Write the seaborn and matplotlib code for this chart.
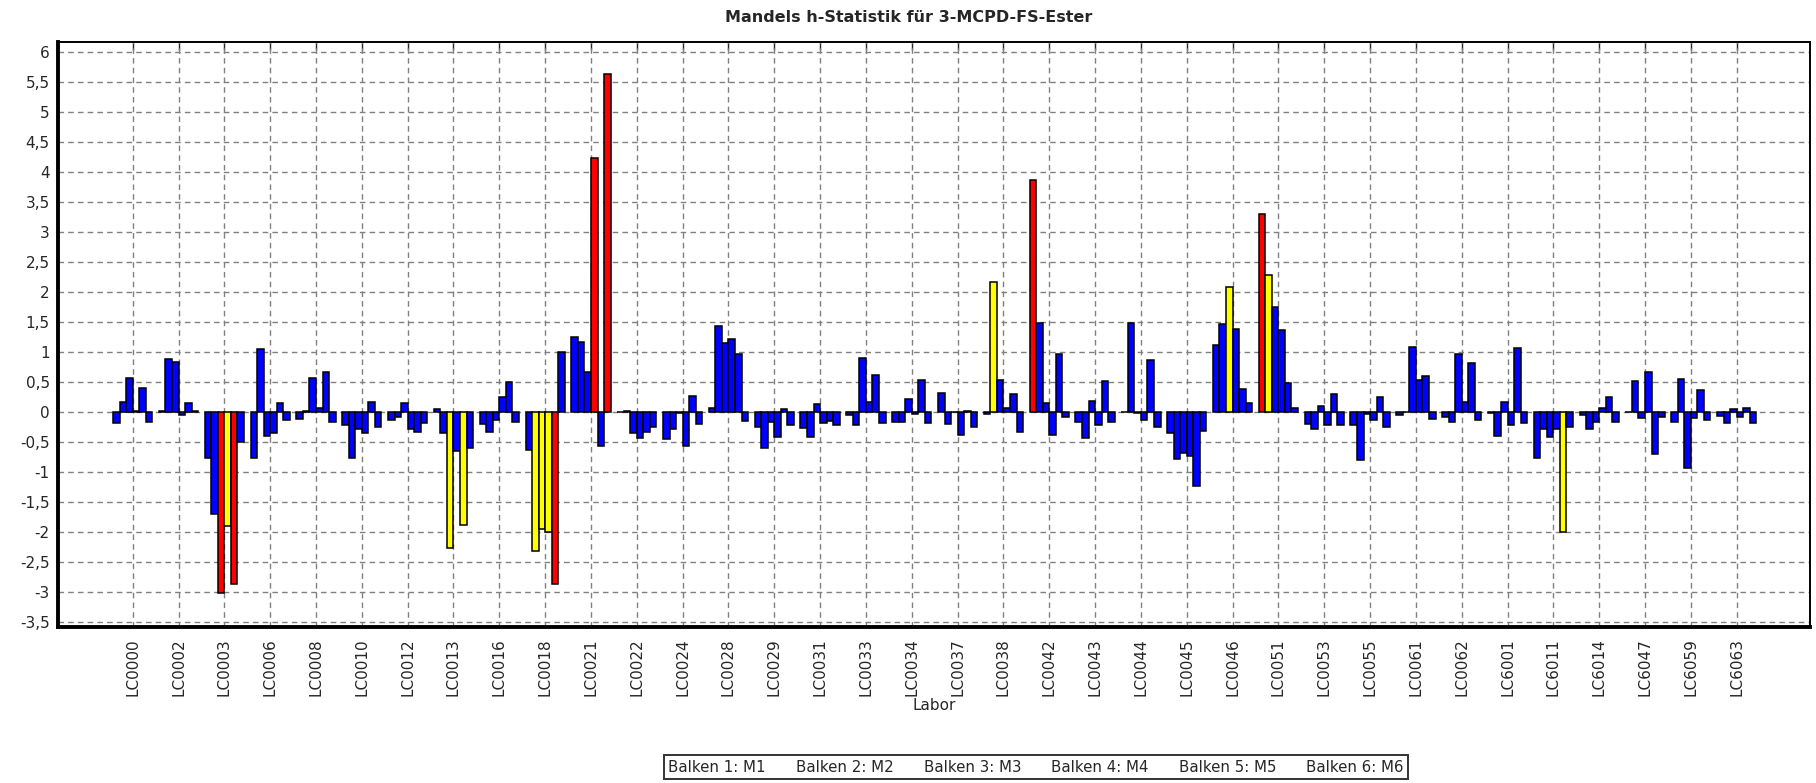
import numpy as np
import pandas as pd
import matplotlib
matplotlib.use("Agg")
import matplotlib.pyplot as plt
from matplotlib.lines import Line2D
from matplotlib.ticker import FuncFormatter
import seaborn as sns

# Labore (one group of six bars per lab)
labs = ["LC0000", "LC0002", "LC0003", "LC0006", "LC0008", "LC0010", "LC0012",
        "LC0013", "LC0016", "LC0018", "LC0021", "LC0022", "LC0024", "LC0028",
        "LC0029", "LC0031", "LC0033", "LC0034", "LC0037", "LC0038", "LC0042",
        "LC0043", "LC0044", "LC0045", "LC0046", "LC0051", "LC0053", "LC0055",
        "LC0061", "LC0062", "LC6001", "LC6011", "LC6014", "LC6047", "LC6059",
        "LC6063"]

# Mandel h values, Balken 1..6 (M1..M6)
m1 = [-0.19, 0.02, -0.77, -0.77, -0.12, -0.22, -0.14, 0.05, -0.20, -0.63, 1.24, 0.00,
      -0.46, 0.07, -0.26, -0.27, -0.05, -0.17, 0.32, -0.03, 3.87, -0.17, 0.00, -0.36,
      1.11, 3.30, -0.21, -0.22, -0.06, -0.08, -0.02, -0.77, -0.06, 0.00, -0.17, -0.07]
m2 = [0.17, 0.88, -1.70, 1.04, 0.02, -0.77, -0.08, -0.36, -0.33, -2.32, 1.16, 0.02,
      -0.29, 1.44, -0.61, -0.42, -0.22, -0.17, -0.21, 2.17, 1.49, -0.44, 1.49, -0.78,
      1.47, 2.28, -0.29, -0.81, -0.01, -0.17, -0.41, -0.29, -0.29, 0.52, 0.54, -0.19]
m3 = [0.56, 0.83, -3.03, -0.41, 0.56, -0.28, 0.14, -2.27, -0.14, -1.96, 0.66, -0.36,
      -0.02, 1.14, -0.17, 0.13, 0.89, 0.21, 0.00, 0.53, 0.14, 0.18, -0.02, -0.69,
      2.09, 1.75, 0.10, -0.04, 1.08, 0.97, 0.16, -0.42, -0.17, -0.11, -0.93, 0.04]
m4 = [0.02, -0.06, -1.91, -0.36, 0.07, -0.36, -0.28, -0.66, 0.25, -2.00, 4.24, -0.43,
      -0.57, 1.22, -0.42, -0.19, 0.17, -0.03, -0.39, 0.06, -0.39, -0.22, -0.14, -0.74,
      1.39, 1.37, -0.22, -0.14, 0.53, 0.17, -0.22, -0.29, 0.06, 0.66, -0.11, -0.08]
m5 = [0.39, 0.14, -2.87, 0.14, 0.66, 0.17, -0.33, -1.89, 0.50, -2.87, -0.57, -0.34,
      0.27, 0.96, 0.04, -0.15, 0.62, 0.53, 0.02, 0.29, 0.97, 0.51, 0.87, -1.24,
      0.38, 0.48, 0.29, 0.24, 0.60, 0.81, 1.06, -2.00, 0.25, -0.71, 0.36, 0.06]
m6 = [-0.17, 0.01, -0.50, -0.14, -0.17, -0.25, -0.19, -0.60, -0.17, 0.99, 5.64, -0.26,
      -0.20, -0.15, -0.22, -0.22, -0.19, -0.19, -0.25, -0.33, -0.08, -0.17, -0.25, -0.32,
      0.14, 0.07, -0.22, -0.26, -0.12, -0.14, -0.19, -0.25, -0.17, -0.08, -0.13, -0.19]

series = ["M1", "M2", "M3", "M4", "M5", "M6"]
legend_labels = ["Balken 1: M1", "Balken 2: M2", "Balken 3: M3",
                 "Balken 4: M4", "Balken 5: M5", "Balken 6: M6"]

# critical values used for colouring (5 % -> yellow, 1 % -> red)
h_warn = 1.85
h_out = 2.5


def bar_colour(h):
    if abs(h) >= h_out:
        return "#ff0000"
    if abs(h) >= h_warn:
        return "#ffff00"
    return "#0000ff"


def comma_fmt(v, pos):
    v = round(v, 2) + 0.0
    return f"{v:g}".replace(".", ",")


def main():
    wide = pd.DataFrame(dict(zip(series, [m1, m2, m3, m4, m5, m6])))
    wide["Labor"] = labs
    df = wide.melt(id_vars="Labor", var_name="Balken", value_name="h")

    sns.set_style("white")
    plt.rcParams["font.family"] = ["DejaVu Sans"]

    fig = plt.figure(figsize=(18.16, 7.83), dpi=100)
    ax = fig.add_axes([58 / 1816, 1 - 627 / 783, (1810 - 58) / 1816, (627 - 42) / 783])

    sns.barplot(data=df, x="Labor", y="h", hue="Balken", order=labs,
                hue_order=series, palette=["#0000ff"] * 6, saturation=1,
                width=6 / 7, edgecolor="black", linewidth=1.1,
                errorbar=None, legend=False, ax=ax)

    # colour each bar by its h value
    for p in ax.patches:
        p.set_facecolor(bar_colour(p.get_height()))

    ax.set_xlim(-1.63, len(labs) - 1 + 1.6)
    ax.set_ylim(-3.59, 6.17)
    ax.set_yticks(np.arange(-3.5, 6.01, 0.5))
    ax.yaxis.set_major_formatter(FuncFormatter(comma_fmt))

    ax.set_axisbelow(True)
    ax.grid(True, color="#808080", linestyle=(0, (4, 3)), linewidth=1)

    for side in ["left", "bottom"]:
        ax.spines[side].set_linewidth(2.8)
    for side in ["top", "right"]:
        ax.spines[side].set_linewidth(1.4)
    for s in ax.spines.values():
        s.set_color("black")

    ax.tick_params(axis="x", labelrotation=90, labelsize=11, length=5,
                   color="#808080", pad=3)
    ax.tick_params(axis="y", labelsize=11, length=0, pad=6)

    # short inner ticks on the top frame
    top = ax.secondary_xaxis("top")
    top.set_xticks(range(len(labs)))
    top.tick_params(direction="in", length=6, width=1, labeltop=False)
    top.spines["top"].set_visible(False)

    ax.set_xlabel("Labor", fontsize=11, labelpad=1)
    ax.set_ylabel("")

    fig.text(909 / 1816, 1 - 17 / 783, "Mandels h-Statistik für 3-MCPD-FS-Ester",
             ha="center", va="center", fontsize=11.5, fontweight="bold")

    handles = [Line2D([], [], linestyle="none") for _ in legend_labels]
    leg = fig.legend(handles, legend_labels, ncol=6, loc="center",
                     bbox_to_anchor=(1036 / 1816, 1 - 767 / 783),
                     frameon=True, fancybox=False, edgecolor="black",
                     handlelength=0, handletextpad=0, columnspacing=2.0,
                     fontsize=10.8, borderpad=0.3)
    leg.get_frame().set_linewidth(1.4)

    fig.savefig("out.png", dpi=100, facecolor="white")


if __name__ == "__main__":
    main()
